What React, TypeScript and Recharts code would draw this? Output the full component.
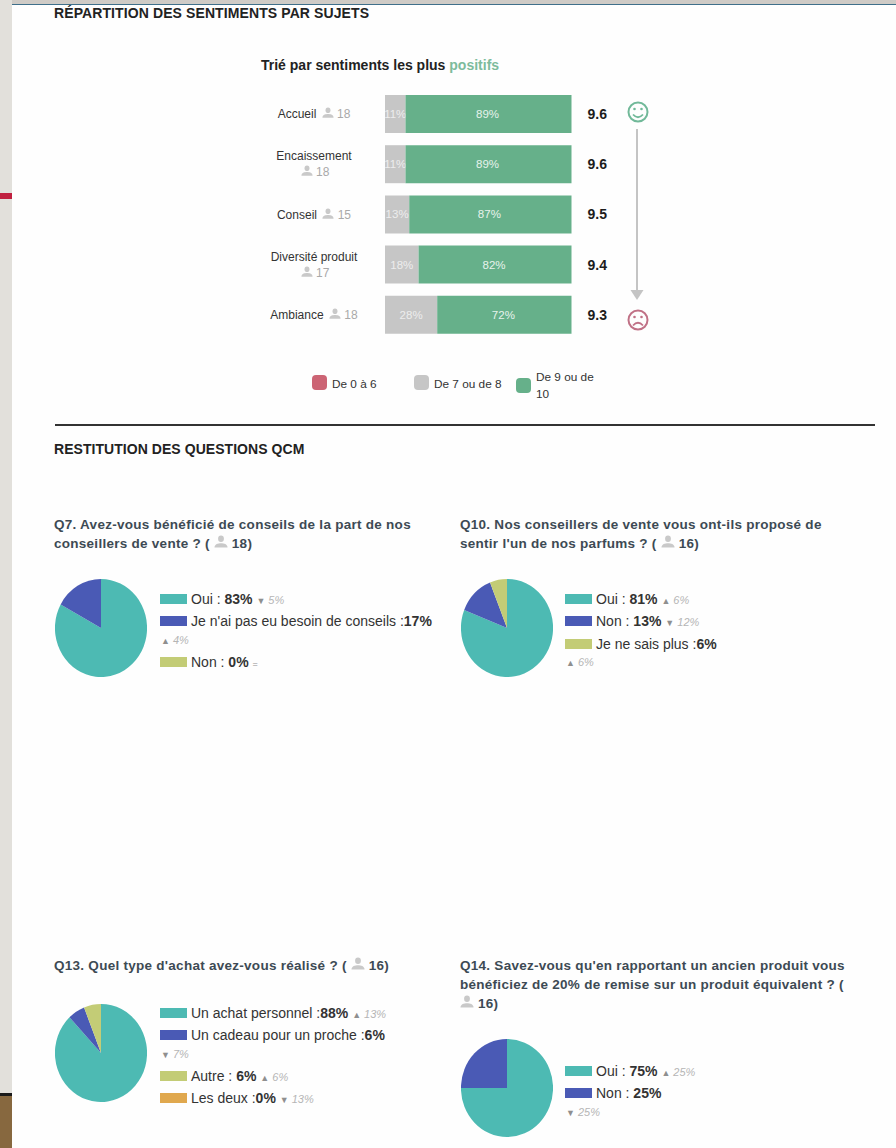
import React from "react";
import { BarChart, Bar, XAxis, YAxis, LabelList, PieChart, Pie, Cell } from "recharts";

// Sentiment breakdown per subject
const subjects = ["Accueil", "Encaissement", "Conseil", "Diversité produit", "Ambiance"];
const respondents = [18, 18, 15, 17, 18];
const lowShare = [0, 0, 0, 0, 0];
const midShare = [11, 11, 13, 18, 28];
const highShare = [89, 89, 87, 82, 72];
const scores = [9.6, 9.6, 9.5, 9.4, 9.3];
const sentimentLegend = ["De 0 à 6", "De 7 ou de 8", "De 9 ou de 10"];

// Multiple-choice questions
const q7Labels = ["Oui", "Je n'ai pas eu besoin de conseils", "Non"];
const q7Values = [83, 17, 0];
const q7Deltas = ["▼ 5%", "▲ 4%", "="];
const q7Title = ["Q7. Avez-vous bénéficié de conseils de la part de nos", "conseillers de vente ? ( @ 18)"];

const q10Labels = ["Oui", "Non", "Je ne sais plus"];
const q10Values = [81, 13, 6];
const q10Deltas = ["▲ 6%", "▼ 12%", "▲ 6%"];
const q10Title = ["Q10. Nos conseillers de vente vous ont-ils proposé de", "sentir l'un de nos parfums ? ( @ 16)"];

const q13Labels = ["Un achat personnel", "Un cadeau pour un proche", "Autre", "Les deux"];
const q13Values = [88, 6, 6, 0];
const q13Deltas = ["▲ 13%", "▼ 7%", "▲ 6%", "▼ 13%"];
const q13Title = ["Q13. Quel type d'achat avez-vous réalisé ? ( @ 16)"];

const q14Labels = ["Oui", "Non"];
const q14Values = [75, 25];
const q14Deltas = ["▲ 25%", "▼ 25%"];
const q14Title = [
  "Q14. Savez-vous qu'en rapportant un ancien produit vous",
  "bénéficiez de 20% de remise sur un produit équivalent ? (",
  "@ 16)",
];

const FONT = "'Liberation Sans', Arial, sans-serif";
const RED = "#cc6474";
const GREY = "#c6c6c6";
const GREEN = "#66b08a";
const PIE_COLORS = ["#4dbab3", "#4a5ab5", "#c3cc76", "#e0a84e"];
const TITLE_INK = "#3d4a54";

const sentimentRows = subjects.map((subject, i) => ({
  subject,
  low: lowShare[i],
  mid: midShare[i],
  high: highShare[i],
}));

function Person({ size = 13, color = "#c9c9c9" }: { size?: number; color?: string }) {
  return (
    <svg width={size} height={size} viewBox="0 0 14 14" style={{ verticalAlign: "-1px" }}>
      <ellipse cx="7" cy="3.8" rx="2.9" ry="3.3" fill={color} />
      <path d="M0.5 12.5 C0.5 9 4 8.2 7 8.2 C10 8.2 13.5 9 13.5 12.5 Z" fill={color} />
    </svg>
  );
}

function SubjectTick(props: any) {
  const { y, payload, index } = props;
  return (
    <foreignObject x={16} y={y - 20} width={96} height={40}>
      <div
        style={{
          height: 40,
          display: "flex",
          alignItems: "center",
          justifyContent: "center",
          textAlign: "center",
          fontFamily: FONT,
          fontSize: 12,
          lineHeight: "16px",
          color: "#333",
        }}
      >
        <div>
          {payload.value}{" "}
          <span style={{ whiteSpace: "nowrap", color: "#a9a9a9", marginLeft: 2 }}>
            <Person size={12} /> {respondents[index]}
          </span>
        </div>
      </div>
    </foreignObject>
  );
}

// The percentage is cut off at the segment's edge when the segment is too narrow for it.
function MidLabel(props: any) {
  const { x, y, width, height, value } = props;
  if (!value) return null;
  return (
    <svg x={x} y={y} width={width} height={height}>
      <text x={width / 2} y={height / 2 + 4} fill="#ededed" fontSize={11.5} textAnchor="middle" fontFamily={FONT}>
        {value}%
      </text>
    </svg>
  );
}

function HighLabel(props: any) {
  const { x, y, width, height, value } = props;
  return (
    <text x={x + width / 2 - 1} y={y + height / 2 + 4} fill="#e6f3ec" fontSize={11.5} textAnchor="middle" fontFamily={FONT}>
      {value}%
    </text>
  );
}

function ScoreLabel(props: any) {
  const { x, y, width, height, index } = props;
  return (
    <text x={x + width + 16} y={y + height / 2 + 5} fill="#1c1c1c" fontSize={14} fontWeight="bold" fontFamily={FONT}>
      {scores[index].toFixed(1)}
    </text>
  );
}

function SentimentChart() {
  return (
    <div style={{ position: "absolute", left: 250, top: 89, width: 430, height: 251 }}>
      <BarChart
        width={430}
        height={251}
        data={sentimentRows}
        layout="vertical"
        margin={{ top: 0, right: 108.5, bottom: 0, left: 0 }}
        barSize={38}
      >
        <XAxis type="number" domain={[0, 100]} hide />
        <YAxis
          type="category"
          dataKey="subject"
          width={135}
          axisLine={false}
          tickLine={false}
          interval={0}
          tick={<SubjectTick />}
        />
        <Bar dataKey="low" stackId="s" fill={RED} isAnimationActive={false} />
        <Bar dataKey="mid" stackId="s" fill={GREY} isAnimationActive={false}>
          <LabelList dataKey="mid" content={<MidLabel />} />
        </Bar>
        <Bar dataKey="high" stackId="s" fill={GREEN} isAnimationActive={false}>
          <LabelList dataKey="high" content={<HighLabel />} />
          <LabelList dataKey="high" content={<ScoreLabel />} />
        </Bar>
      </BarChart>
    </div>
  );
}

function MoodScale() {
  return (
    <svg style={{ position: "absolute", left: 620, top: 95, overflow: "visible" }} width={40} height={240}>
      <circle cx="18" cy="17" r="9.5" fill="none" stroke="#71b999" strokeWidth="2" />
      <circle cx="14.5" cy="14" r="1.3" fill="#71b999" />
      <circle cx="21.5" cy="14" r="1.3" fill="#71b999" />
      <path d="M13 19.5 Q18 25 23 19.5" fill="none" stroke="#71b999" strokeWidth="1.8" />
      <line x1="17" y1="34" x2="17" y2="196" stroke="#c4c4c4" strokeWidth="2" />
      <path d="M10.5 195 H23.5 L17 205 Z" fill="#c4c4c4" />
      <circle cx="18" cy="225" r="9.5" fill="none" stroke="#c07186" strokeWidth="2" />
      <circle cx="14.5" cy="222" r="1.3" fill="#c07186" />
      <circle cx="21.5" cy="222" r="1.3" fill="#c07186" />
      <path d="M13 230.5 Q18 225 23 230.5" fill="none" stroke="#c07186" strokeWidth="1.8" />
    </svg>
  );
}

function SentimentLegend() {
  const chip = (left: number, top: number, color: string) => (
    <div style={{ position: "absolute", left, top, width: 15, height: 15, borderRadius: 4, background: color }} />
  );
  const text = (left: number, top: number, label: string) => (
    <div style={{ position: "absolute", left, top, fontSize: 11.8, lineHeight: "14px", color: "#333", whiteSpace: "nowrap" }}>
      {label}
    </div>
  );
  const [firstLine, lastWord] = [sentimentLegend[2].slice(0, 10), sentimentLegend[2].slice(11)];
  return (
    <>
      {chip(312, 375, RED)}
      {text(332, 377, sentimentLegend[0])}
      {chip(414, 375, GREY)}
      {text(434, 377, sentimentLegend[1])}
      {chip(516, 378, GREEN)}
      {text(536, 370, firstLine)}
      {text(536, 387, lastWord)}
    </>
  );
}

function Title({ left, top, lines }: { left: number; top: number; lines: string[] }) {
  return (
    <div
      style={{
        position: "absolute",
        left,
        top,
        fontSize: 13.5,
        fontWeight: "bold",
        lineHeight: "19px",
        color: TITLE_INK,
        whiteSpace: "nowrap",
        letterSpacing: 0.27,
      }}
    >
      {lines.map((line) => {
        const parts = line.split("@");
        return (
          <div key={line} style={{ height: 19 }}>
            {parts[0]}
            {parts.length > 1 && <Person size={14} />}
            {parts[1]}
          </div>
        );
      })}
    </div>
  );
}

function Delta({ text }: { text: string }) {
  const marker = text[0];
  const rest = text.slice(1);
  return (
    <span style={{ color: "#b5b5b5", fontSize: 11, fontStyle: "italic", whiteSpace: "nowrap" }}>
      <span style={{ fontSize: 9, fontStyle: "normal", color: "#8f8f8f" }}>{marker}</span>
      {rest}
    </span>
  );
}

type QuestionProps = {
  cx: number;
  cy: number;
  legendLeft: number;
  legendTop: number;
  labels: string[];
  values: number[];
  deltas: string[];
  compact: boolean[];
  belowRows: number[];
};

function Question({ cx, cy, legendLeft, legendTop, labels, values, deltas, compact, belowRows }: QuestionProps) {
  const slices = labels.map((name, i) => ({ name, value: values[i] }));
  return (
    <>
      <div style={{ position: "absolute", left: cx - 49, top: cy - 49, width: 98, height: 98, transform: "scaleX(0.94)" }}>
        <PieChart width={98} height={98} margin={{ top: 0, right: 0, bottom: 0, left: 0 }}>
          <Pie
            data={slices}
            dataKey="value"
            nameKey="name"
            cx={49}
            cy={49}
            outerRadius={49}
            startAngle={90}
            endAngle={-270}
            stroke="none"
            isAnimationActive={false}
          >
            {slices.map((s, i) => (
              <Cell key={s.name} fill={PIE_COLORS[i]} />
            ))}
          </Pie>
        </PieChart>
      </div>
      <div style={{ position: "absolute", left: legendLeft, top: legendTop, fontSize: 14, color: "#333" }}>
        {labels.map((name, i) => (
          <div key={name}>
            <div style={{ height: 22.4, lineHeight: "22px", whiteSpace: "nowrap" }}>
              <span
                style={{
                  display: "inline-block",
                  width: 27,
                  height: 10,
                  marginRight: 4,
                  background: PIE_COLORS[i],
                  verticalAlign: 0,
                }}
              />
              {name}
              {compact[i] ? " :" : " : "}
              <b>{values[i]}%</b>
              {!belowRows.includes(i) && (
                <>
                  {" "}
                  <Delta text={deltas[i]} />
                </>
              )}
            </div>
            {belowRows.includes(i) && (
              <div style={{ height: 18, lineHeight: "13px", marginLeft: 1 }}>
                <Delta text={deltas[i]} />
              </div>
            )}
          </div>
        ))}
      </div>
    </>
  );
}

export default function App() {
  return (
    <div
      style={{
        position: "fixed",
        left: 0,
        top: 0,
        width: 896,
        height: 1148,
        overflow: "hidden",
        background: "#fefefe",
        fontFamily: FONT,
      }}
    >
      {/* Page frame */}
      <div style={{ position: "absolute", left: 0, top: 0, width: 12, height: 1148, background: "#e2e0db" }} />
      <div style={{ position: "absolute", left: 0, top: 193, width: 12, height: 6, background: "#c0203f" }} />
      <div style={{ position: "absolute", left: 0, top: 1093, width: 12, height: 3, background: "#1a1a1a" }} />
      <div style={{ position: "absolute", left: 0, top: 1096, width: 12, height: 52, background: "#87683f" }} />
      <div style={{ position: "absolute", left: 12, top: 0, width: 884, height: 4, background: "#cfcbc6" }} />
      <div style={{ position: "absolute", left: 12, top: 4, width: 884, height: 1, background: "#3f6f8a" }} />

      <div style={{ position: "absolute", left: 54, top: 5, fontSize: 14, fontWeight: "bold", color: "#222", whiteSpace: "nowrap", letterSpacing: 0.1 }}>
        RÉPARTITION DES SENTIMENTS PAR SUJETS
      </div>
      <div style={{ position: "absolute", left: 261, top: 57, fontSize: 14, fontWeight: "bold", color: "#222", whiteSpace: "nowrap" }}>
        Trié par sentiments les plus <span style={{ color: "#7dbb9c" }}>positifs</span>
      </div>

      <SentimentChart />
      <MoodScale />
      <SentimentLegend />

      <div style={{ position: "absolute", left: 55, top: 424, width: 820, height: 2, background: "#333" }} />
      <div style={{ position: "absolute", left: 54, top: 441, fontSize: 14, fontWeight: "bold", color: "#222", whiteSpace: "nowrap", letterSpacing: 0.05 }}>
        RESTITUTION DES QUESTIONS QCM
      </div>

      <Title left={54} top={515} lines={q7Title} />
      <Question
        cx={101}
        cy={628}
        legendLeft={160}
        legendTop={588}
        labels={q7Labels}
        values={q7Values}
        deltas={q7Deltas}
        compact={[false, true, false]}
        belowRows={[1]}
      />

      <Title left={460} top={515} lines={q10Title} />
      <Question
        cx={507}
        cy={628}
        legendLeft={565}
        legendTop={588}
        labels={q10Labels}
        values={q10Values}
        deltas={q10Deltas}
        compact={[false, false, true]}
        belowRows={[2]}
      />

      <Title left={54} top={956} lines={q13Title} />
      <Question
        cx={101}
        cy={1053}
        legendLeft={160}
        legendTop={1002}
        labels={q13Labels}
        values={q13Values}
        deltas={q13Deltas}
        compact={[true, true, false, true]}
        belowRows={[1]}
      />

      <Title left={460} top={956} lines={q14Title} />
      <Question
        cx={507}
        cy={1088}
        legendLeft={565}
        legendTop={1060}
        labels={q14Labels}
        values={q14Values}
        deltas={q14Deltas}
        compact={[false, false]}
        belowRows={[1]}
      />
    </div>
  );
}
